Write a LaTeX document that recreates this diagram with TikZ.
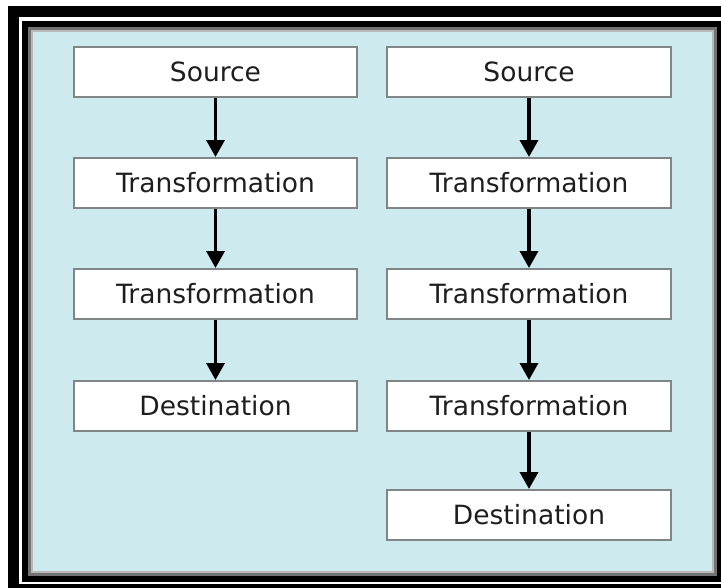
\documentclass[tikz,border=0pt]{standalone}
\usepackage{fontspec}
\setmainfont{DejaVu Sans}
\usetikzlibrary{arrows.meta}
\definecolor{panel}{RGB}{205,235,238}
\definecolor{boxline}{RGB}{128,134,136}
\definecolor{txt}{RGB}{30,30,30}
\tikzset{
  stepbox/.style={draw=boxline, line width=2pt, fill=white, minimum height=50pt,
    inner sep=0pt, font=\fontsize{26.5}{30}\selectfont, text=txt},
  leftbox/.style={stepbox, minimum width=283pt},
  rightbox/.style={stepbox, minimum width=284pt},
  flow/.style={line width=3.5pt, -{Triangle[width=18pt,length=17pt]}}
}
\begin{document}
\begin{tikzpicture}[x=1pt,y=-1pt]
\useasboundingbox (0,0) rectangle (721,587);
\fill[white] (0,0) rectangle (721,587);
\begin{scope}
\clip (0,0) rectangle (721,587);
% outer black frame
\draw[line width=11pt] (13.5,11.5) rectangle (735,589.5);
% inner frame
\fill[panel] (22,21) rectangle (722,582);
\draw[line width=6pt] (25,24) rectangle (719.5,578.5);
\draw[line width=3pt, black!55] (29.5,28.5) rectangle (715,574);
\draw[line width=2pt, black!28] (31.5,30.5) rectangle (712.5,571.5);
\end{scope}
% left column
\node[leftbox] (l1) at (215.5,71.5) {Source};
\node[leftbox] (l2) at (215.5,183) {Transformation};
\node[leftbox] (l3) at (215.5,294) {Transformation};
\node[leftbox] (l4) at (215.5,406) {Destination};
% right column
\node[rightbox] (r1) at (529,72) {Source};
\node[rightbox] (r2) at (529,183) {Transformation};
\node[rightbox] (r3) at (529,294) {Transformation};
\node[rightbox] (r4) at (529,406) {Transformation};
\node[rightbox] (r5) at (529,515) {Destination};
% connectors
\draw[flow] (l1) -- (l2);
\draw[flow] (l2) -- (l3);
\draw[flow] (l3) -- (l4);
\draw[flow] (r1) -- (r2);
\draw[flow] (r2) -- (r3);
\draw[flow] (r3) -- (r4);
\draw[flow] (r4) -- (r5);
\end{tikzpicture}
\end{document}
